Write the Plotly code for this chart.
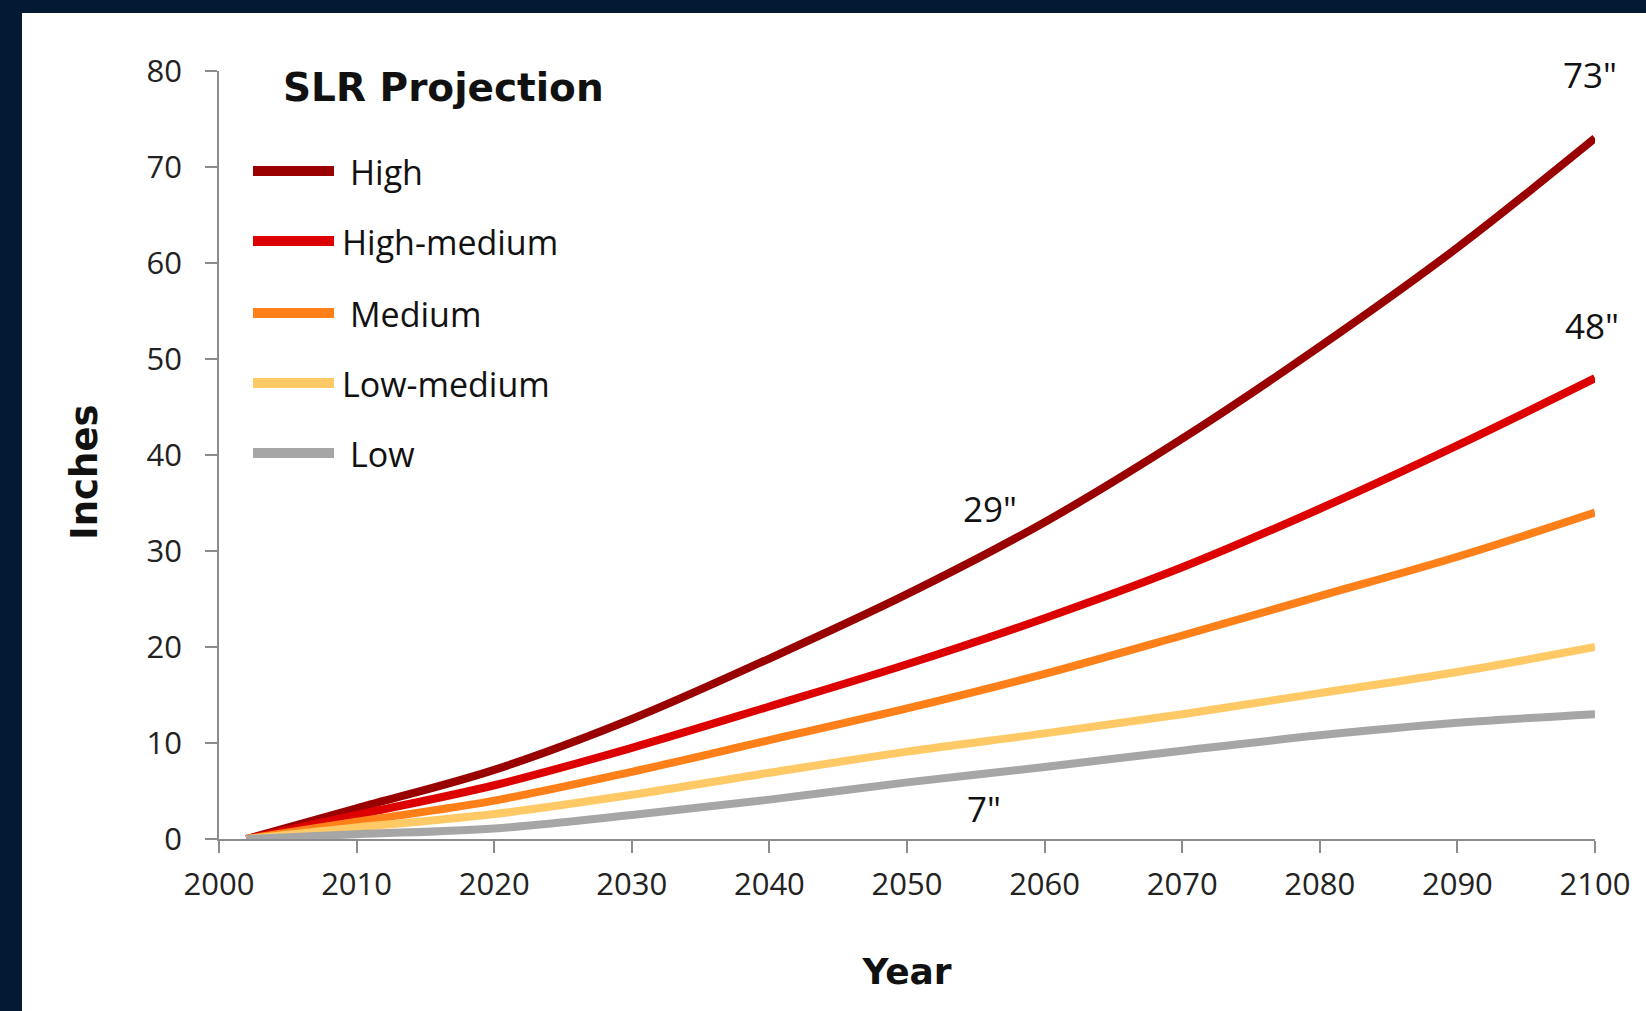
import plotly.graph_objects as go

# ---------------- data ----------------
years = [2002, 2010, 2020, 2030, 2040, 2050, 2060, 2070, 2080, 2090, 2100]
high = [0, 3.2, 7.2, 12.5, 18.8, 25.5, 33.0, 41.7, 51.3, 61.6, 73.0]
high_medium = [0, 2.5, 5.6, 9.5, 13.8, 18.2, 23.0, 28.3, 34.4, 41.0, 48.0]
medium = [0, 1.8, 4.0, 7.0, 10.3, 13.6, 17.2, 21.2, 25.3, 29.4, 34.0]
low_medium = [0, 1.2, 2.6, 4.6, 6.9, 9.1, 11.0, 13.0, 15.2, 17.4, 20.0]
low = [0, 0.5, 1.1, 2.5, 4.1, 5.9, 7.5, 9.2, 10.8, 12.1, 13.0]

series_names = ["High", "High-medium", "Medium", "Low-medium", "Low"]
series_values = [high, high_medium, medium, low_medium, low]
series_colors = ["#990000", "#dd0000", "#ff8018", "#ffc966", "#a6a6a6"]

end_labels = ['73"', '48"', '34"', '20"', '13"']
end_label_pos = [(2099.6, 79.6), (2099.8, 53.5), (2100.1, 40.5), (2100.1, 23.9), (2100.3, 10.0)]
mid_labels = ['29"', '7"']
mid_label_pos = [(2056.0, 34.4), (2055.6, 3.2)]

# ---------------- layout constants ----------------
W, H = 1646, 1011
L, R, T, B = 219, 51, 71, 172
PW, PH = W - L - R, H - T - B
DARK = "#041934"
REG = "Open Sans"
BOLD = "DejaVu Sans"


def px(x):
    return (x - L) / PW


def py(y):
    return (H - B - y) / PH


fig = go.Figure()
for name, vals, col in zip(series_names, series_values, series_colors):
    fig.add_trace(go.Scatter(
        x=years, y=vals, name=name, mode="lines",
        line=dict(color=col, width=8, shape="spline", smoothing=1.0),
        showlegend=False, hoverinfo="x+y+name",
    ))

annotations = []
for txt, (x, y) in zip(end_labels + mid_labels, end_label_pos + mid_label_pos):
    annotations.append(dict(x=x, y=y, xref="x", yref="y", text=txt, showarrow=False,
                            xanchor="center", yanchor="middle",
                            font=dict(family=REG, size=35, color="#111")))

# title of legend
annotations.append(dict(x=px(281), y=py(87), xref="paper", yref="paper",
                        text="<b>SLR Projection</b>", showarrow=False,
                        xanchor="left", yanchor="middle",
                        font=dict(family=BOLD, size=39, color="#111")))

# y axis title (placed off-centre as in the reference)
annotations.append(dict(x=px(84), y=py(472), xref="paper", yref="paper",
                        text="<b>Inches</b>", showarrow=False, textangle=-90,
                        xanchor="center", yanchor="middle",
                        font=dict(family=BOLD, size=37, color="#111")))

shapes = []
leg_y = [171, 241, 313, 383, 453]
leg_tx = [348, 340, 348, 340, 348]
for name, col, ly, tx in zip(series_names, series_colors, leg_y, leg_tx):
    shapes.append(dict(type="line", xref="paper", yref="paper",
                       x0=px(253), x1=px(334), y0=py(ly), y1=py(ly),
                       line=dict(color=col, width=10)))
    annotations.append(dict(x=px(tx), y=py(ly + 1), xref="paper", yref="paper",
                            text=name, showarrow=False, xanchor="left", yanchor="middle",
                            font=dict(family=REG, size=34, color="#111")))

# dark frame strips (left and top)
shapes.append(dict(type="rect", xref="paper", yref="paper", layer="above",
                   x0=px(0), x1=px(22), y0=py(H), y1=py(0),
                   fillcolor=DARK, line=dict(width=0)))
shapes.append(dict(type="rect", xref="paper", yref="paper", layer="above",
                   x0=px(0), x1=px(W), y0=py(13), y1=py(0),
                   fillcolor=DARK, line=dict(width=0)))

axis_common = dict(showgrid=False, zeroline=False, showline=True, linecolor="#8c8c8c",
                   linewidth=1.5, ticks="outside", ticklen=12, tickcolor="#8c8c8c",
                   tickwidth=1.5, tickfont=dict(family=REG, size=31, color="#222"))

fig.update_layout(
    width=W, height=H,
    margin=dict(l=L, r=R, t=T, b=B, autoexpand=False),
    paper_bgcolor="white", plot_bgcolor="white",
    xaxis=dict(range=[2000, 2100], tick0=2000, dtick=10, ticklabelstandoff=5,
               title=dict(text="<b>Year</b>", standoff=56,
                          font=dict(family=BOLD, size=36, color="#111")),
               **axis_common),
    yaxis=dict(range=[0, 80], tick0=0, dtick=10, ticklabelstandoff=17, **axis_common),
    annotations=annotations,
    shapes=shapes,
    showlegend=False,
)

fig.write_html("out.html")
